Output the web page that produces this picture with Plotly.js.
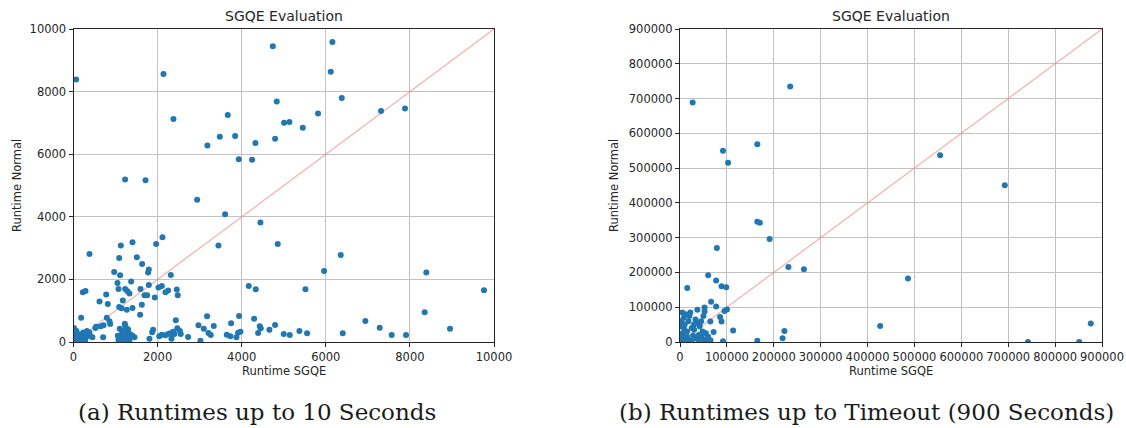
<!DOCTYPE html>
<html>
<head>
<meta charset="utf-8">
<script src="https://cdn.plot.ly/plotly-3.0.1.min.js"></script>
<style>html,body{margin:0;padding:0;background:#fff;}#chart{width:1126px;height:428px;}</style>
</head>
<body>
<div id="chart"></div>
<script>
// ---- Panel (a): runtimes up to 10 seconds ----
const sgqeA = [
  63,2140,4740,6157,6117,6379,4834,7314,7884,2377,3669,5816,5008,5135,5452,3479,3843,4794,4326,3185,3930,4247,1228,1712,2940,3605,4445,4857,3447,6355,5959,8391,9762,5515,4334,4168,8352,6941,7282,8954,7567,7908,6403,5555,5372,5143,5000,4794,4659,
  380,1403,1125,1086,2116,1965,1506,1632,1791,1775,967,1109,2314,1371,1046,1070,1228,1284,1331,1593,1791,2021,2100,2187,2250,2456,2480,1688,1751,1933,1173,1086,1141,1268,1403,1625,1585,618,777,816,222,285,182,792,856,872,713,539,705,1054,1220,2433,1894,1870,1807,
  2971,3019,2726,3177,3336,3209,3098,3264,3748,3645,3732,3875,3914,3938,3970,4295,4390,4453,4430,
  2187,2250,2300,2370,2400,2470,2530,2550,2330,2100,2040,
  1100,1150,1180,1200,1220,1250,1280,1300,1320,1350,1380,1150,1100,1250,1200,1280,1400,1450,1070,1330,1230,1160,
  10,20,30,40,50,60,80,100,120,150,180,200,230,260,300,320,350,400,20,40,70,90,130,160,210,280,5,15,110,240,380,450,520,650
];
const normalA = [
  8390,8560,9446,9584,8635,7793,7687,7377,7463,7122,7249,7303,7004,7026,6844,6557,6578,6493,6354,6279,5842,5821,5192,5171,4542,4083,3817,3134,3081,2783,2271,2217,1652,1684,1684,1791,949,672,458,426,224,224,277,277,352,224,256,544,394,
  2815,3188,3081,2687,3348,3134,2708,2495,2313,2217,2239,2132,2143,1930,1887,1695,1695,1620,1546,1695,1823,1738,1791,1588,1642,1674,1493,1493,1493,1418,1322,1119,1077,1034,1087,1194,874,1290,1514,1215,1588,1631,778,778,661,576,533,490,149,203,586,693,394,309,107,
  533,43,160,821,512,288,426,224,597,234,181,149,298,832,330,746,288,437,500,
  213,256,277,330,256,437,352,256,107,230,180,
  420,350,250,150,80,300,200,400,120,250,180,120,200,450,320,60,200,150,60,30,520,40,
  450,380,300,200,120,60,30,150,250,100,200,50,300,120,200,350,250,180,100,20,350,230,80,30,150,60,250,50,20,20,300,150,450,500
];

// ---- Panel (b): runtimes up to timeout (900 seconds) ----
const sgqeB = [
  26970,235000,164900,91700,102500,554800,692700,164900,170300,191100,78600,231200,264300,486200,60100,77100,88600,98600,15400,66300,77100,100200,94800,52400,52400,37000,85500,88600,64700,37000,71700,113300,222700,218800,164900,91700,426900,876100,742000,851400,
  5000,12000,8000,3000,10000,2000,20000,25000,30000,15000,5000,40000,45000,35000,50000,55000,20000,10000,3000,28000,60000,65000,48000,42000,18000,33000,8000,1000,25000,12000,40000,55000,30000,22000,6000,15000,45000,50000
];
const normalB = [
  689000,735000,568800,549700,515400,537300,450500,345500,342600,295900,270100,215700,209000,182300,191800,176600,160300,157500,155600,115500,102100,93500,88800,99300,87800,92600,71600,59200,59200,55400,28600,33400,31500,10500,3800,1900,45800,53400,0,0,
  85000,80000,70000,60000,50000,45000,75000,40000,35000,30000,25000,20000,15000,10000,8000,5000,5000,12000,8000,18000,15000,5000,30000,45000,60000,65000,40000,20000,2000,1000,1000,25000,50000,85000,5000,15000,60000,75000
];

const ticksA = [0,2000,4000,6000,8000,10000];
const ticksB = [0,100000,200000,300000,400000,500000,600000,700000,800000,900000];
const diagA = [0,10000];
const diagB = [0,900000];

const titleText = 'SGQE Evaluation';
const xLabel = 'Runtime SGQE';
const yLabel = 'Runtime Normal';
const captionA = '(a) Runtimes up to 10 Seconds';
const captionB = '(b) Runtimes up to Timeout (900 Seconds)';

const blue = '#1f77b4';
const diagColor = 'rgba(245,120,120,0.6)';
const tickFont = {family:'DejaVu Sans', size:11.5, color:'#262626'};

const traces = [
  {x: diagA, y: diagA, mode:'lines', line:{color:diagColor, width:1.2}, xaxis:'x', yaxis:'y', hoverinfo:'skip'},
  {x: sgqeA, y: normalA, mode:'markers', marker:{color:blue, size:6}, xaxis:'x', yaxis:'y'},
  {x: diagB, y: diagB, mode:'lines', line:{color:diagColor, width:1.2}, xaxis:'x2', yaxis:'y2', hoverinfo:'skip'},
  {x: sgqeB, y: normalB, mode:'markers', marker:{color:blue, size:6}, xaxis:'x2', yaxis:'y2'}
];

function ax(extra){
  return Object.assign({
    showline:true, mirror:true, linecolor:'#262626', linewidth:1,
    showgrid:true, gridcolor:'#c2c2c2', gridwidth:1,
    zeroline:false, ticks:'outside', ticklen:4, tickcolor:'#262626', tickwidth:1,
    tickfont:tickFont, tickangle:0, tickmode:'array', fixedrange:true
  }, extra);
}

const yDom = [1-342/428, 1-29/428];
const layout = {
  width:1126, height:428,
  margin:{l:0,r:0,t:0,b:0},
  paper_bgcolor:'#fff', plot_bgcolor:'#fff',
  showlegend:false,
  xaxis: ax({domain:[73.5/1126, 494/1126], range:[0,10000], tickvals:ticksA, ticktext:ticksA.map(String), anchor:'y'}),
  yaxis: ax({domain:yDom, range:[0,10000], tickvals:ticksA, ticktext:ticksA.map(String), anchor:'x'}),
  xaxis2: ax({domain:[680/1126, 1102/1126], range:[0,900000], tickvals:ticksB, ticktext:ticksB.map(String), anchor:'y2'}),
  yaxis2: ax({domain:yDom, range:[0,900000], tickvals:ticksB, ticktext:ticksB.map(String), anchor:'x2'}),
  annotations:[
    {text:titleText, xref:'paper', yref:'paper', x:(73.5+494)/2/1126, y:1-16/428, xanchor:'center', yanchor:'middle', showarrow:false, font:{family:'DejaVu Sans', size:14, color:'#262626'}},
    {text:titleText, xref:'paper', yref:'paper', x:(680+1102)/2/1126, y:1-16/428, xanchor:'center', yanchor:'middle', showarrow:false, font:{family:'DejaVu Sans', size:14, color:'#262626'}},
    {text:xLabel, xref:'paper', yref:'paper', x:(73.5+494)/2/1126, y:1-371/428, xanchor:'center', yanchor:'middle', showarrow:false, font:{family:'DejaVu Sans', size:11.5, color:'#262626'}},
    {text:xLabel, xref:'paper', yref:'paper', x:(680+1102)/2/1126, y:1-371/428, xanchor:'center', yanchor:'middle', showarrow:false, font:{family:'DejaVu Sans', size:11.5, color:'#262626'}},
    {text:yLabel, xref:'paper', yref:'paper', x:17/1126, y:1-186/428, xanchor:'center', yanchor:'middle', textangle:-90, showarrow:false, font:{family:'DejaVu Sans', size:11.5, color:'#262626'}},
    {text:yLabel, xref:'paper', yref:'paper', x:614/1126, y:1-186/428, xanchor:'center', yanchor:'middle', textangle:-90, showarrow:false, font:{family:'DejaVu Sans', size:11.5, color:'#262626'}},
    {text:captionA, xref:'paper', yref:'paper', x:257/1126, y:1-412/428, xanchor:'center', yanchor:'middle', showarrow:false, font:{family:'DejaVu Serif', size:23, color:'#1a1a1a'}},
    {text:captionB, xref:'paper', yref:'paper', x:866/1126, y:1-412/428, xanchor:'center', yanchor:'middle', showarrow:false, font:{family:'DejaVu Serif', size:23, color:'#1a1a1a'}}
  ]
};

Plotly.newPlot('chart', traces, layout, {staticPlot:true, displayModeBar:false});
</script>
</body>
</html>
